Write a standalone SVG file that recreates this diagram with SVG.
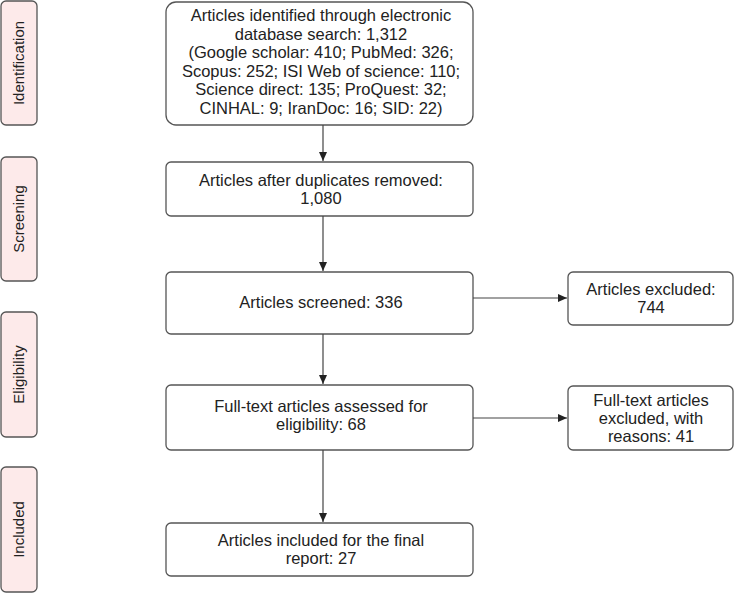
<svg xmlns="http://www.w3.org/2000/svg" width="735" height="594" viewBox="0 0 735 594">
<style>
.box{fill:#fff;stroke:#555;stroke-width:1.3}
.side{fill:#fdeaea;stroke:#555;stroke-width:1.3}
text{font-family:"Liberation Sans",Arial,sans-serif;font-size:16.5px;fill:#222;text-anchor:middle}
.side-t{font-size:15px}
.conn{stroke:#444;stroke-width:1.2;fill:none}
</style>
<defs>
<marker id="ah" markerWidth="10" markerHeight="10" refX="9" refY="5" orient="auto" markerUnits="userSpaceOnUse">
<path d="M0,1 L9,5 L0,9 Z" fill="#222"/>
</marker>
</defs>
<g id="side-identification"><rect class="side" x="1" y="1" width="36" height="124" rx="5"/><text class="side-t" transform="translate(24,63) rotate(-90)">Identification</text></g>
<g id="side-screening"><rect class="side" x="1" y="157" width="36" height="124" rx="5"/><text class="side-t" transform="translate(24,219) rotate(-90)">Screening</text></g>
<g id="side-eligibility"><rect class="side" x="1" y="312" width="36" height="125" rx="5"/><text class="side-t" transform="translate(24,374.5) rotate(-90)">Eligibility</text></g>
<g id="side-included"><rect class="side" x="1" y="467" width="36" height="125" rx="5"/><text class="side-t" transform="translate(24,529.5) rotate(-90)">Included</text></g>

<g id="identified"><rect class="box" x="166" y="2" width="307" height="123" rx="10"/>
<text x="321" y="21">Articles identified through electronic</text>
<text x="321" y="39.5">database search: 1,312</text>
<text x="321" y="58">(Google scholar: 410; PubMed: 326;</text>
<text x="321" y="76.5">Scopus: 252; ISI Web of science: 110;</text>
<text x="321" y="95">Science direct: 135; ProQuest: 32;</text>
<text x="321" y="113.5">CINHAL: 9; IranDoc: 16; SID: 22)</text></g>

<g id="duplicates"><rect class="box" x="166" y="162" width="307" height="54" rx="5"/>
<text x="321" y="186">Articles after duplicates removed:</text>
<text x="321" y="204">1,080</text></g>

<g id="screened"><rect class="box" x="166" y="272" width="307" height="62" rx="5"/>
<text x="321" y="308">Articles screened: 336</text></g>

<g id="excluded"><rect class="box" x="568" y="272" width="165" height="53" rx="5"/>
<text x="651" y="295">Articles excluded:</text>
<text x="651" y="313">744</text></g>

<g id="fulltext"><rect class="box" x="166" y="385" width="307" height="65" rx="5"/>
<text x="321" y="412">Full-text articles assessed for</text>
<text x="321" y="430">eligibility: 68</text></g>

<g id="fulltext-excluded"><rect class="box" x="568" y="386" width="165" height="64" rx="5"/>
<text x="651" y="406">Full-text articles</text>
<text x="651" y="424">excluded, with</text>
<text x="651" y="442">reasons: 41</text></g>

<g id="included"><rect class="box" x="166" y="523" width="307" height="53" rx="5"/>
<text x="321" y="546">Articles included for the final</text>
<text x="321" y="564">report: 27</text></g>

<g id="connectors">
<line class="conn" x1="323" y1="125" x2="323" y2="161" marker-end="url(#ah)"/>
<line class="conn" x1="323" y1="216" x2="323" y2="271" marker-end="url(#ah)"/>
<line class="conn" x1="323" y1="334" x2="323" y2="384" marker-end="url(#ah)"/>
<line class="conn" x1="323" y1="450" x2="323" y2="522" marker-end="url(#ah)"/>
<line class="conn" x1="473" y1="298" x2="567" y2="298" marker-end="url(#ah)"/>
<line class="conn" x1="473" y1="418" x2="567" y2="418" marker-end="url(#ah)"/>
</g>
</svg>
